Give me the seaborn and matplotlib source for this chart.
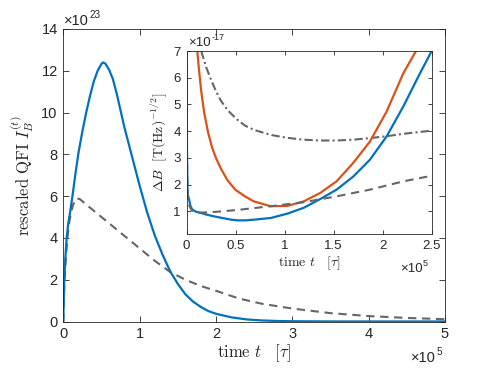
import numpy as np
import pandas as pd
import matplotlib
matplotlib.use("Agg")
import matplotlib.pyplot as plt
import seaborn as sns

# main panel: rescaled QFI (x in 1e5 tau, y in 1e23)
main_t_blue = [0, 0.005, 0.013, 0.026, 0.044, 0.065, 0.088, 0.12, 0.16, 0.2, 0.25, 0.3,
               0.35, 0.4, 0.45, 0.5, 0.52, 0.55, 0.6, 0.65, 0.7, 0.75, 0.8, 0.85, 0.9,
               0.95, 1.0, 1.05, 1.1, 1.15, 1.2, 1.3, 1.4, 1.5, 1.6, 1.7, 1.8, 1.9, 2.0,
               2.2, 2.4, 2.6, 2.8, 3.0, 3.5, 4.0, 5.0]
main_qfi_blue = [0, 1.0, 2.0, 3.0, 4.0, 4.7, 5.2, 6.0, 7.1, 8.1, 9.1, 10.0,
                 10.8, 11.5, 12.0, 12.33, 12.4, 12.35, 12.05, 11.6, 10.9, 10.1, 9.3, 8.6, 7.9,
                 7.2, 6.5, 5.85, 5.2, 4.65, 4.1, 3.2, 2.4, 1.8, 1.3, 0.95, 0.7, 0.5, 0.37,
                 0.2, 0.1, 0.05, 0.025, 0.012, 0.003, 0.001, 0.0]
main_t_dash = [0, 0.01, 0.02, 0.04, 0.06, 0.08, 0.1, 0.13, 0.175, 0.22, 0.3, 0.4, 0.5,
               0.6, 0.7, 0.8, 0.9, 1.0, 1.2, 1.4, 1.6, 1.8, 2.0, 2.3, 2.6, 3.0, 3.5,
               4.0, 4.5, 5.0]
main_qfi_dash = [0, 1.4, 2.2, 3.4, 4.2, 4.8, 5.2, 5.6, 5.9, 5.85, 5.6, 5.3, 5.0,
                 4.7, 4.4, 4.1, 3.8, 3.5, 2.9, 2.37, 2.0, 1.7, 1.47, 1.1, 0.85, 0.62, 0.4,
                 0.26, 0.17, 0.11]

# inset: Delta B (x in 1e5 tau, y in 1e-17)
ins_t_blue = [0, 0.005, 0.01, 0.015, 0.02, 0.027, 0.04, 0.06, 0.1, 0.145, 0.2, 0.28, 0.35,
              0.45, 0.52, 0.6, 0.7, 0.86, 1.026, 1.195, 1.36, 1.53, 1.7, 1.87, 2.04,
              2.21, 2.38, 2.5]
ins_db_blue = [7.0, 3.0, 1.9, 1.6, 1.5, 1.44, 1.2, 1.06, 0.98, 0.94, 0.88, 0.81, 0.76,
               0.69, 0.66, 0.66, 0.69, 0.75, 0.91, 1.13, 1.45, 1.81, 2.3, 2.93, 3.8,
               4.92, 6.16, 7.0]
ins_t_orange = [0.11, 0.13, 0.15, 0.18, 0.22, 0.26, 0.3, 0.35, 0.42, 0.5, 0.6, 0.687,
                0.857, 1.026, 1.195, 1.365, 1.53, 1.7, 1.87, 2.04, 2.21, 2.34]
ins_db_orange = [7.0, 6.2, 5.5, 4.7, 3.95, 3.4, 3.0, 2.6, 2.15, 1.8, 1.55, 1.37,
                 1.19, 1.2, 1.37, 1.69, 2.12, 2.81, 3.61, 4.73, 6.16, 7.0]
ins_t_dash = [0, 0.004, 0.008, 0.015, 0.03, 0.05, 0.08, 0.11, 0.145, 0.3, 0.52, 0.86,
              1.195, 1.53, 1.87, 2.21, 2.5]
ins_db_dash = [7.0, 3.5, 2.2, 1.6, 1.2, 1.05, 0.98, 0.96, 0.95, 0.98, 1.05, 1.19,
               1.34, 1.56, 1.81, 2.12, 2.33]
ins_t_dashdot = [0.15, 0.2, 0.247, 0.3, 0.349, 0.42, 0.52, 0.6, 0.687, 0.857, 1.026,
                 1.195, 1.36, 1.53, 1.7, 1.87, 2.04, 2.21, 2.38, 2.5]
ins_db_dashdot = [7.0, 6.4, 5.95, 5.5, 5.15, 4.78, 4.42, 4.2, 4.05, 3.86, 3.75,
                  3.68, 3.65, 3.65, 3.68, 3.74, 3.81, 3.9, 3.97, 4.02]

main_xticks = [0, 1, 2, 3, 4, 5]
main_yticks = [0, 2, 4, 6, 8, 10, 12, 14]
ins_xticks = [0, 0.5, 1, 1.5, 2, 2.5]
ins_yticks = [1, 2, 3, 4, 5, 6, 7]

BLUE = "#0072BD"
ORANGE = "#D95319"
GRAY = "#666666"
AXC = "#262626"

sns.set_style("ticks")
plt.rcParams["font.family"] = ["Liberation Sans", "DejaVu Sans"]
plt.rcParams["mathtext.fontset"] = "cm"
plt.rcParams["axes.edgecolor"] = AXC
plt.rcParams["axes.linewidth"] = 0.6
plt.rcParams["xtick.color"] = AXC
plt.rcParams["ytick.color"] = AXC


def style_axes(ax, size, ticklen):
    ax.tick_params(direction="in", top=True, right=True, length=ticklen, width=0.6,
                   labelsize=size, pad=4)
    for s in ax.spines.values():
        s.set_visible(True)
        s.set_color(AXC)


def exponent(fig, x, y, base, exp, size):
    # "x10" followed by a raised exponent, placed in figure pixels
    t = fig.text(x / 491, 1 - y / 368, base, fontsize=size, ha="left", va="baseline",
                 color=AXC)
    bb = t.get_window_extent(renderer=fig.canvas.get_renderer())
    fig.text((bb.x1 + 0.5) / 491, 1 - (y - size * 0.62) / 368, exp, fontsize=size * 0.68,
             ha="left", va="baseline", color=AXC)


fig = plt.figure(figsize=(4.91, 3.68), dpi=100)
ax = fig.add_axes([63.3 / 491, 1 - 321.5 / 368, (445 - 63.3) / 491, (321.5 - 29) / 368])

sns.lineplot(x=main_t_dash, y=main_qfi_dash, ax=ax, color=GRAY, lw=1.5,
             linestyle=(0, (4, 2.7)), sort=False)
sns.lineplot(x=main_t_blue, y=main_qfi_blue, ax=ax, color=BLUE, lw=1.6, sort=False)
ax.set_xlim(0, 5)
ax.set_ylim(0, 14)
ax.set_xticks(main_xticks)
ax.set_yticks(main_yticks)
ax.set_xticklabels([str(v) for v in main_xticks])
ax.set_yticklabels([str(v) for v in main_yticks])
style_axes(ax, 10.5, 4)
ax.set_xlabel(r"$\mathrm{time}\ t\ \ \ [\tau]$", fontsize=12, labelpad=1, color=AXC)
ax.set_ylabel(r"$\mathrm{rescaled\ QFI}\ I_B^{(t)}$", fontsize=12, labelpad=4, color=AXC)

exponent(fig, 64, 25, "×10", "23", 10.5)
exponent(fig, 411, 362, "×10", "5", 10.5)

# inset
axi = fig.add_axes([186.5 / 491, 1 - 234 / 368, (431.7 - 186.5) / 491, (234 - 51) / 368])
axi.set_facecolor("white")
sns.lineplot(x=ins_t_dashdot, y=ins_db_dashdot, ax=axi, color=GRAY, lw=1.5,
             linestyle=(0, (4, 1.5, 1, 1.5)), sort=False)
sns.lineplot(x=ins_t_orange, y=ins_db_orange, ax=axi, color=ORANGE, lw=1.6, sort=False)
sns.lineplot(x=ins_t_blue, y=ins_db_blue, ax=axi, color=BLUE, lw=1.6, sort=False)
sns.lineplot(x=ins_t_dash, y=ins_db_dash, ax=axi, color=GRAY, lw=1.5,
             linestyle=(0, (4, 2.7)), sort=False)
axi.set_xlim(0, 2.5)
axi.set_ylim(0.15, 7)
axi.set_xticks(ins_xticks)
axi.set_yticks(ins_yticks)
axi.set_xticklabels([f"{v:g}" for v in ins_xticks])
axi.set_yticklabels([str(v) for v in ins_yticks])
style_axes(axi, 9.5, 3)
axi.set_xlabel(r"$\mathrm{time}\ t\ \ \ [\tau]$", fontsize=10, labelpad=2, color=AXC)
axi.set_ylabel(r"$\Delta B\ \ [\mathrm{T(Hz)}^{-1/2}]$", fontsize=10, labelpad=3,
               color=AXC)

exponent(fig, 188, 46, "×10", "-17", 9.5)
exponent(fig, 400, 272, "×10", "5", 9.5)

fig.savefig("out.png", dpi=100)
